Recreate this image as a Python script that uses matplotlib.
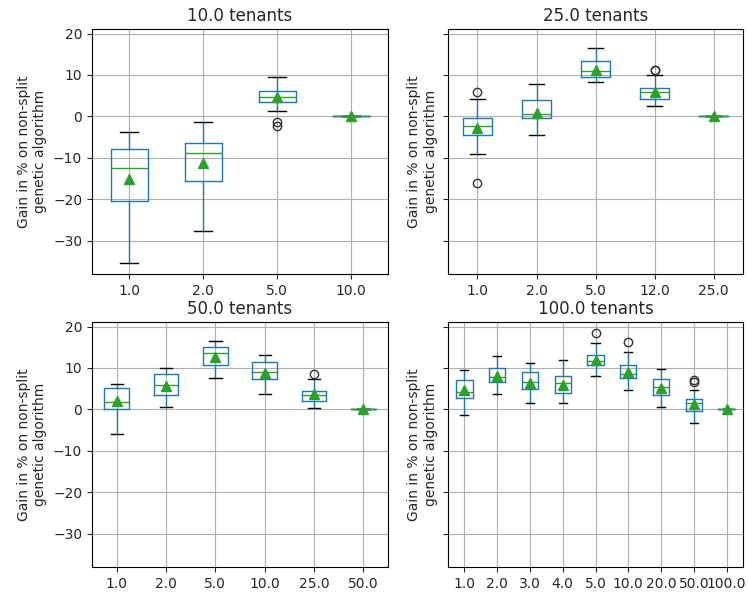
import matplotlib
matplotlib.use("Agg")
import matplotlib.pyplot as plt

# ---- data ----
titles = ["10.0 tenants", "25.0 tenants", "50.0 tenants", "100.0 tenants"]

labels_10 = ["1.0", "2.0", "5.0", "10.0"]
q1_10 = [-20.5, -15.5, 3.4, 0.0]
med_10 = [-12.4, -8.7, 4.7, 0.0]
q3_10 = [-7.9, -6.3, 6.2, 0.0]
lo_10 = [-35.3, -27.7, 1.4, 0.0]
hi_10 = [-3.8, -1.4, 9.6, 0.0]
mean_10 = [-15.2, -11.2, 4.6, 0.0]
fl_10 = [[], [], [-1.4, -2.2], []]

labels_25 = ["1.0", "2.0", "5.0", "12.0", "25.0"]
q1_25 = [-4.5, -0.4, 9.6, 4.1, 0.0]
med_25 = [-2.4, 0.6, 11.0, 6.0, 0.0]
q3_25 = [-0.3, 3.9, 13.3, 6.9, 0.0]
lo_25 = [-9.0, -4.5, 8.2, 2.4, 0.0]
hi_25 = [4.1, 7.9, 16.4, 10.0, 0.0]
mean_25 = [-2.7, 0.9, 11.3, 6.0, 0.0]
fl_25 = [[6.0, -16.1], [], [], [11.3, 11.1], []]

labels_50 = ["1.0", "2.0", "5.0", "10.0", "25.0", "50.0"]
q1_50 = [0.0, 3.4, 10.6, 7.3, 2.0, 0.0]
med_50 = [1.7, 5.8, 13.5, 9.0, 3.4, 0.0]
q3_50 = [5.2, 8.6, 15.1, 11.4, 4.5, 0.0]
lo_50 = [-5.9, 0.7, 7.6, 3.8, 0.3, 0.0]
hi_50 = [6.2, 10.0, 16.5, 13.1, 7.3, 0.0]
mean_50 = [2.0, 5.6, 12.7, 8.9, 3.7, 0.0]
fl_50 = [[], [], [], [], [8.5], []]

labels_100 = ["1.0", "2.0", "3.0", "4.0", "5.0", "10.0", "20.0", "50.0", "100.0"]
q1_100 = [2.8, 6.6, 4.9, 3.9, 10.7, 7.6, 3.4, -0.3, 0.0]
med_100 = [4.1, 7.8, 6.7, 6.3, 11.7, 8.6, 5.5, 1.5, 0.0]
q3_100 = [7.0, 9.9, 9.0, 8.0, 13.2, 10.7, 7.3, 2.5, 0.0]
lo_100 = [-1.4, 3.8, 1.5, 1.5, 8.0, 4.6, 0.7, -3.2, 0.0]
hi_100 = [9.4, 12.8, 11.1, 11.9, 16.0, 13.9, 9.8, 4.6, 0.0]
mean_100 = [4.7, 8.1, 6.4, 5.8, 12.0, 9.1, 5.2, 1.3, 0.0]
fl_100 = [[], [], [], [], [18.4], [16.3], [], [7.0, 6.7], []]

panels = [
    (labels_10, q1_10, med_10, q3_10, lo_10, hi_10, mean_10, fl_10),
    (labels_25, q1_25, med_25, q3_25, lo_25, hi_25, mean_25, fl_25),
    (labels_50, q1_50, med_50, q3_50, lo_50, hi_50, mean_50, fl_50),
    (labels_100, q1_100, med_100, q3_100, lo_100, hi_100, mean_100, fl_100),
]

ylabel = "Gain in % on non-split\ngenetic algorithm"

plt.rcParams["text.color"] = "#262626"
plt.rcParams["axes.labelcolor"] = "#262626"
plt.rcParams["xtick.color"] = "#262626"
plt.rcParams["ytick.color"] = "#262626"

fig = plt.figure(figsize=(7.48, 5.92), dpi=100)
W, H = 748, 592
L1, R1 = 92 / W, 388 / W
L2, R2 = 448 / W, 743 / W
T1, B1 = 1 - 29 / H, 1 - 274 / H
T2, B2 = 1 - 322 / H, 1 - 567 / H
rects = [
    (L1, B1, R1 - L1, T1 - B1),
    (L2, B1, R2 - L2, T1 - B1),
    (L1, B2, R1 - L1, T2 - B2),
    (L2, B2, R2 - L2, T2 - B2),
]
axes = []
for i, r in enumerate(rects):
    if i == 0:
        ax = fig.add_axes(r)
    else:
        ax = fig.add_axes(r, sharey=axes[0])
    axes.append(ax)

for i, (ax, p) in enumerate(zip(axes, panels)):
    labels, q1, med, q3, lo, hi, mean, fl = p
    stats = []
    for j in range(len(labels)):
        stats.append(dict(label=labels[j], q1=q1[j], med=med[j], q3=q3[j],
                          whislo=lo[j], whishi=hi[j], mean=mean[j], fliers=fl[j]))
    ax.bxp(stats, widths=0.5, showmeans=True, patch_artist=False,
           boxprops=dict(color="#1f77b4"),
           whiskerprops=dict(color="#1f77b4"),
           capprops=dict(color="black"),
           medianprops=dict(color="#2ca02c"),
           meanprops=dict(marker="^", markerfacecolor="#2ca02c",
                          markeredgecolor="#2ca02c", markersize=7),
           flierprops=dict(marker="o", markerfacecolor="none",
                           markeredgecolor="#333333"))
    ax.grid(True, color="#b0b0b0", linewidth=0.8)
    ax.set_axisbelow(True)
    ax.set_title(titles[i], fontsize=12)
    ax.set_ylabel(ylabel)
    ax.set_yticks([-30, -20, -10, 0, 10, 20])
    if i % 2 == 1:
        ax.tick_params(labelleft=False)

fig.savefig("out.png", dpi=100)
